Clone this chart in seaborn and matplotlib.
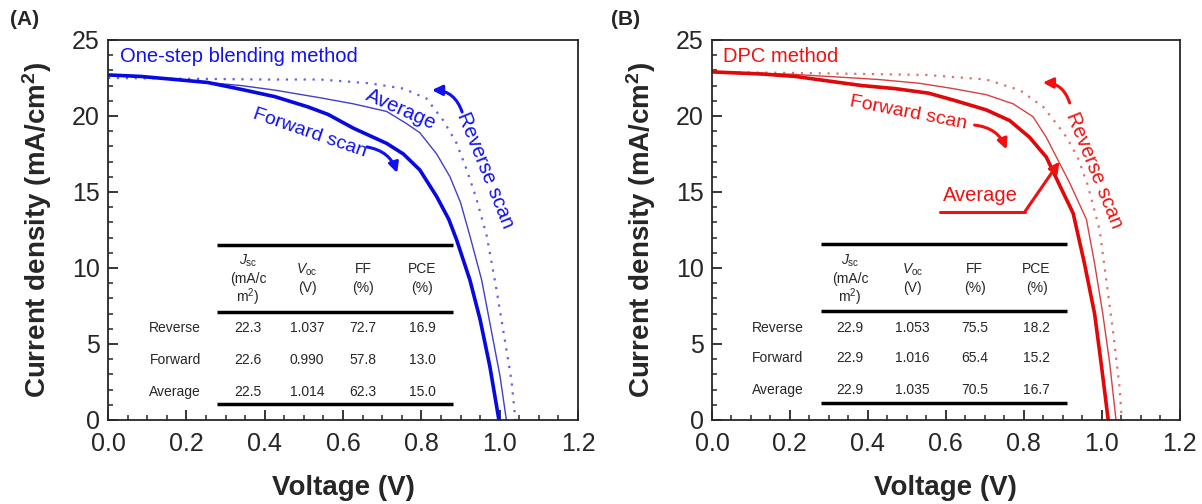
import matplotlib
matplotlib.use("Agg")
import matplotlib.pyplot as plt
import seaborn as sns
from matplotlib.ticker import MultipleLocator, FormatStrFormatter

# ---- data ----
# panel A (one-step blending)
a_fwd_v = [0, 0.084, 0.171, 0.255, 0.34, 0.426, 0.51, 0.562, 0.626, 0.711, 0.754,
           0.796, 0.839, 0.87, 0.89, 0.924, 0.95, 0.975, 0.998]
a_fwd_j = [22.7, 22.6, 22.4, 22.2, 21.75, 21.27, 20.6, 20.1, 19.2, 18.2, 17.5,
           16.45, 14.7, 13.2, 11.85, 9.2, 6.6, 3.5, 0]
a_avg_v = [0, 0.171, 0.34, 0.426, 0.541, 0.626, 0.711, 0.762, 0.796, 0.839, 0.873,
           0.9, 0.924, 0.954, 0.977, 1.001, 1.017]
a_avg_j = [22.7, 22.4, 22.0, 21.7, 21.2, 20.8, 20.3, 19.5, 18.9, 17.5, 16.0,
           14.3, 12.1, 9.2, 6.1, 2.85, 0]
a_rev_v = [0, 0.2, 0.4, 0.541, 0.668, 0.754, 0.813, 0.856, 0.89, 0.916, 0.94,
           0.967, 0.992, 1.013, 1.03, 1.04]
a_rev_j = [22.5, 22.45, 22.4, 22.4, 22.15, 21.8, 21.15, 19.7, 18.2, 16.45, 14.6,
           12.1, 8.55, 5.26, 2.6, 0]

# panel B (DPC)
b_fwd_v = [0, 0.128, 0.214, 0.299, 0.385, 0.47, 0.556, 0.619, 0.704, 0.764, 0.815,
           0.858, 0.895, 0.927, 0.956, 0.982, 0.999, 1.017]
b_fwd_j = [22.9, 22.76, 22.6, 22.3, 22.0, 21.8, 21.5, 21.05, 20.4, 19.7, 18.6,
           17.3, 15.3, 13.6, 10.3, 7.0, 3.7, 0]
b_avg_v = [0, 0.2, 0.299, 0.427, 0.533, 0.619, 0.704, 0.773, 0.824, 0.858, 0.884,
           0.918, 0.961, 0.982, 1.003, 1.021, 1.037]
b_avg_j = [22.9, 22.75, 22.6, 22.4, 22.15, 21.8, 21.4, 20.8, 19.95, 18.6, 17.3,
           15.6, 13.2, 10.3, 7.0, 3.7, 0]
b_rev_v = [0, 0.3, 0.55, 0.704, 0.79, 0.85, 0.884, 0.91, 0.94, 0.965, 0.995,
           1.012, 1.029, 1.046, 1.052]
b_rev_j = [22.9, 22.8, 22.7, 22.4, 21.7, 20.6, 19.5, 18.6, 17.2, 15.4, 12.5,
           9.2, 5.9, 2.2, 0]

# table contents
row_names = ["Reverse", "Forward", "Average"]
a_table = [["22.3", "1.037", "72.7", "16.9"],
           ["22.6", "0.990", "57.8", "13.0"],
           ["22.5", "1.014", "62.3", "15.0"]]
b_table = [["22.9", "1.053", "75.5", "18.2"],
           ["22.9", "1.016", "65.4", "15.2"],
           ["22.9", "1.035", "70.5", "16.7"]]

sns.set_style("ticks")
plt.rcParams["font.family"] = ["Liberation Sans", "DejaVu Sans"]
plt.rcParams["mathtext.fontset"] = "custom"
plt.rcParams["mathtext.rm"] = "Liberation Sans"
plt.rcParams["mathtext.it"] = "Liberation Sans:italic"
plt.rcParams["mathtext.bf"] = "Liberation Sans:bold"

fig = plt.figure(figsize=(12.02, 5.04), dpi=100)
ax_a = fig.add_axes([0.0899, 0.1667, 0.391, 0.754])
ax_b = fig.add_axes([0.5923, 0.1667, 0.389, 0.754])


def style_axes(ax):
    ax.set_xlim(0, 1.2)
    ax.set_ylim(0, 25)
    ax.xaxis.set_major_locator(MultipleLocator(0.2))
    ax.xaxis.set_minor_locator(MultipleLocator(0.05))
    ax.yaxis.set_major_locator(MultipleLocator(5))
    ax.yaxis.set_minor_locator(MultipleLocator(1))
    ax.xaxis.set_major_formatter(FormatStrFormatter("%.1f"))
    ax.tick_params(which="major", direction="in", length=7, width=1.3, labelsize=18)
    ax.tick_params(axis="x", which="major", pad=9)
    ax.tick_params(axis="y", which="major", pad=6)
    ax.tick_params(which="minor", direction="in", length=3.5, width=1.1)
    for s in ax.spines.values():
        s.set_linewidth(1.3)
    ax.set_xlabel("Voltage (V)", fontsize=20, fontweight="bold", labelpad=13)
    ax.set_ylabel(r"Current density (mA/cm$^{\mathbf{2}}$)", fontsize=20,
                  fontweight="bold", labelpad=13)


def draw_table(ax, x0, x1, cols, lines_y, rows_y, hdr_y, label_x, values):
    ax.hlines(lines_y, x0, x1, color="black", lw=2.5)
    fs = 10
    ax.text(cols[0], hdr_y[0], r"$J_{\rm sc}$", ha="center", va="center", fontsize=fs)
    ax.text(cols[0], hdr_y[1], "(mA/c", ha="center", va="center", fontsize=fs)
    ax.text(cols[0], hdr_y[2], r"m$^{2}$)", ha="center", va="center", fontsize=fs)
    ax.text(cols[1], hdr_y[3], r"$V_{\rm oc}$", ha="center", va="center", fontsize=fs)
    ax.text(cols[1], hdr_y[4], "(V)", ha="center", va="center", fontsize=fs)
    ax.text(cols[2], hdr_y[3], "FF", ha="center", va="center", fontsize=fs)
    ax.text(cols[2], hdr_y[4], "(%)", ha="center", va="center", fontsize=fs)
    ax.text(cols[3], hdr_y[3], "PCE", ha="center", va="center", fontsize=fs)
    ax.text(cols[3], hdr_y[4], "(%)", ha="center", va="center", fontsize=fs)
    for name, ry, vals in zip(row_names, rows_y, values):
        ax.text(label_x, ry, name, ha="center", va="center", fontsize=fs)
        for cx, v in zip(cols, vals):
            ax.text(cx, ry, v, ha="center", va="center", fontsize=fs)


def arrow(ax, start, end, color, rad):
    ax.annotate("", xy=end, xytext=start,
                arrowprops=dict(arrowstyle="-|>,head_length=0.6,head_width=0.3",
                                color=color, lw=2.2, shrinkA=0, shrinkB=0,
                                connectionstyle=f"arc3,rad={rad}"))


# ---- panel A ----
blue = "#1010f0"
sns.lineplot(x=a_rev_v, y=a_rev_j, ax=ax_a, color="#6060e8", lw=1.6,
             linestyle=(0, (1, 3)), sort=False, estimator=None)
sns.lineplot(x=a_avg_v, y=a_avg_j, ax=ax_a, color="#4040c8", lw=1.0,
             sort=False, estimator=None)
sns.lineplot(x=a_fwd_v, y=a_fwd_j, ax=ax_a, color="#0808e0", lw=2.6,
             sort=False, estimator=None)
style_axes(ax_a)
ax_a.text(0.031, 23.9, "One-step blending method", color=blue, fontsize=14.5,
          ha="left", va="center")
ax_a.text(0.748, 20.4, "Average", color=blue, fontsize=14.5, rotation=-24,
          ha="center", va="center")
ax_a.text(0.515, 18.9, "Forward scan", color=blue, fontsize=14, rotation=-19,
          ha="center", va="center")
ax_a.text(0.962, 16.4, "Reverse scan", color=blue, fontsize=14.5, rotation=-68,
          ha="center", va="center")
arrow(ax_a, (0.661, 17.96), (0.738, 16.25), blue, -0.3)
arrow(ax_a, (0.904, 20.26), (0.827, 21.7), blue, 0.35)
draw_table(ax_a, 0.278, 0.881, [0.357, 0.508, 0.651, 0.802],
           [11.5, 7.1, 1.05], [6.05, 3.95, 1.84],
           [10.5, 9.25, 8.1, 9.9, 8.7], 0.171, a_table)

# ---- panel B ----
red = "#f01010"
sns.lineplot(x=b_rev_v, y=b_rev_j, ax=ax_b, color="#e07070", lw=1.6,
             linestyle=(0, (1, 3)), sort=False, estimator=None)
sns.lineplot(x=b_avg_v, y=b_avg_j, ax=ax_b, color="#d84040", lw=1.0,
             sort=False, estimator=None)
sns.lineplot(x=b_fwd_v, y=b_fwd_j, ax=ax_b, color="#e00808", lw=2.6,
             sort=False, estimator=None)
style_axes(ax_b)
ax_b.text(0.028, 23.9, "DPC method", color=red, fontsize=14.5, ha="left", va="center")
ax_b.text(0.505, 20.2, "Forward scan", color=red, fontsize=14, rotation=-11,
          ha="center", va="center")
ax_b.text(0.982, 16.4, "Reverse scan", color=red, fontsize=14.5, rotation=-68,
          ha="center", va="center")
ax_b.text(0.690, 14.75, "Average", color=red, fontsize=14.5, ha="center", va="center")
arrow(ax_b, (0.674, 19.4), (0.756, 17.8), red, -0.3)
arrow(ax_b, (0.918, 20.86), (0.849, 22.2), red, 0.35)
ax_b.plot([0.585, 0.803], [13.7, 13.7], color=red, lw=2.2)
ax_b.annotate("", xy=(0.892, 17.0), xytext=(0.803, 13.7),
              arrowprops=dict(arrowstyle="-|>,head_length=0.6,head_width=0.3",
                              color=red, lw=2.2, shrinkA=0, shrinkB=0))
draw_table(ax_b, 0.279, 0.910, [0.354, 0.515, 0.674, 0.833],
           [11.6, 7.2, 1.1], [6.05, 4.1, 2.0],
           [10.5, 9.25, 8.1, 9.9, 8.7], 0.169, b_table)

fig.text(0.008, 0.962, "(A)", fontsize=15, fontweight="bold", ha="left", va="center")
fig.text(0.508, 0.962, "(B)", fontsize=15, fontweight="bold", ha="left", va="center")

fig.savefig("out.png", dpi=100, facecolor="white")
